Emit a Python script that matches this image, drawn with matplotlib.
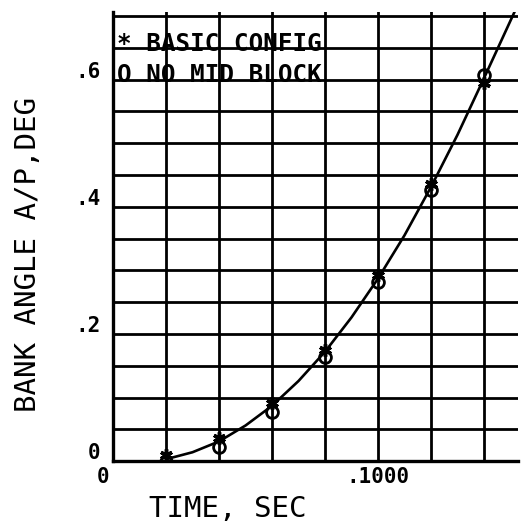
import matplotlib.pyplot as plt
import matplotlib.transforms as mtransforms
from matplotlib.ticker import MultipleLocator


# sample times and bank angle readings for the two configurations
time_s = [0.02, 0.04, 0.06, 0.08, 0.10, 0.12, 0.14]
basic_config = [0.009, 0.036, 0.091, 0.175, 0.292, 0.435, 0.594]
no_mid_block = [-0.001, 0.022, 0.078, 0.164, 0.281, 0.426, 0.607]

# faired curve drawn through the data
curve_time = [0.02, 0.03, 0.04, 0.05, 0.06, 0.07, 0.08, 0.09, 0.10,
              0.11, 0.12, 0.13, 0.14, 0.1515]
curve_angle = [0.003, 0.014, 0.031, 0.056, 0.087, 0.126, 0.172, 0.226,
               0.287, 0.355, 0.431, 0.513, 0.602, 0.706]

y_ticks = [0.0, 0.2, 0.4, 0.6]
y_tick_labels = ["0", ".2", ".4", ".6"]
x_ticks = [0.0, 0.1]
x_tick_labels = ["0", ".1000"]

legend_lines = ["* BASIC CONFIG", "O NO MID BLOCK"]

MONO = "DejaVu Sans Mono"

fig = plt.figure(figsize=(5.21, 5.27), dpi=100)
ax = fig.add_axes([0.217, 0.125, 0.777, 0.852])

ax.set_xlim(0, 0.1528)
ax.set_ylim(0, 0.706)

ax.xaxis.set_major_locator(plt.FixedLocator(x_ticks))
ax.xaxis.set_minor_locator(MultipleLocator(0.02))
ax.yaxis.set_major_locator(plt.FixedLocator(y_ticks))
ax.yaxis.set_minor_locator(MultipleLocator(0.05))
ax.set_xticklabels(x_tick_labels, family=MONO, weight="bold", fontsize=15)
ax.set_yticklabels(y_tick_labels, family=MONO, weight="bold", fontsize=15)
ax.tick_params(which="both", length=0)
ax.tick_params(axis="y", pad=9)
ax.tick_params(axis="x", pad=4)

# plotter style: labels sit just above their grid line
for label in ax.get_yticklabels():
    label.set_transform(label.get_transform()
                        + mtransforms.ScaledTranslation(0, 0.1, fig.dpi_scale_trans))
ax.get_xticklabels()[0].set_transform(
    ax.get_xticklabels()[0].get_transform()
    + mtransforms.ScaledTranslation(-0.1, 0, fig.dpi_scale_trans))

ax.grid(which="both", color="black", linewidth=2.0)
for side in ["top", "right"]:
    ax.spines[side].set_visible(False)
for side in ["left", "bottom"]:
    ax.spines[side].set_linewidth(2.4)

ax.plot(curve_time, curve_angle, color="black", linewidth=1.9, zorder=3)
ax.plot(time_s, basic_config, linestyle="none", marker=(6, 2, 0),
        markersize=9, markeredgewidth=2.5, color="black", zorder=4)
ax.plot(time_s, no_mid_block, linestyle="none", marker="o",
        markersize=8.5, markeredgewidth=2.0, markerfacecolor="none",
        markeredgecolor="black", zorder=4)

ax.text(0.01, 0.928, legend_lines[0], transform=ax.transAxes, family=MONO,
        weight="bold", fontsize=17.5, va="center", ha="left")
ax.text(0.01, 0.859, legend_lines[1], transform=ax.transAxes, family=MONO,
        weight="bold", fontsize=17.5, va="center", ha="left")

ax.set_xlabel("TIME, SEC", family=MONO, fontsize=21)
ax.xaxis.set_label_coords(0.284, -0.075)
ax.set_ylabel("BANK ANGLE A/P,DEG", family=MONO, fontsize=21)
ax.yaxis.set_label_coords(-0.175, 0.46)

fig.savefig("out.png", dpi=100)
